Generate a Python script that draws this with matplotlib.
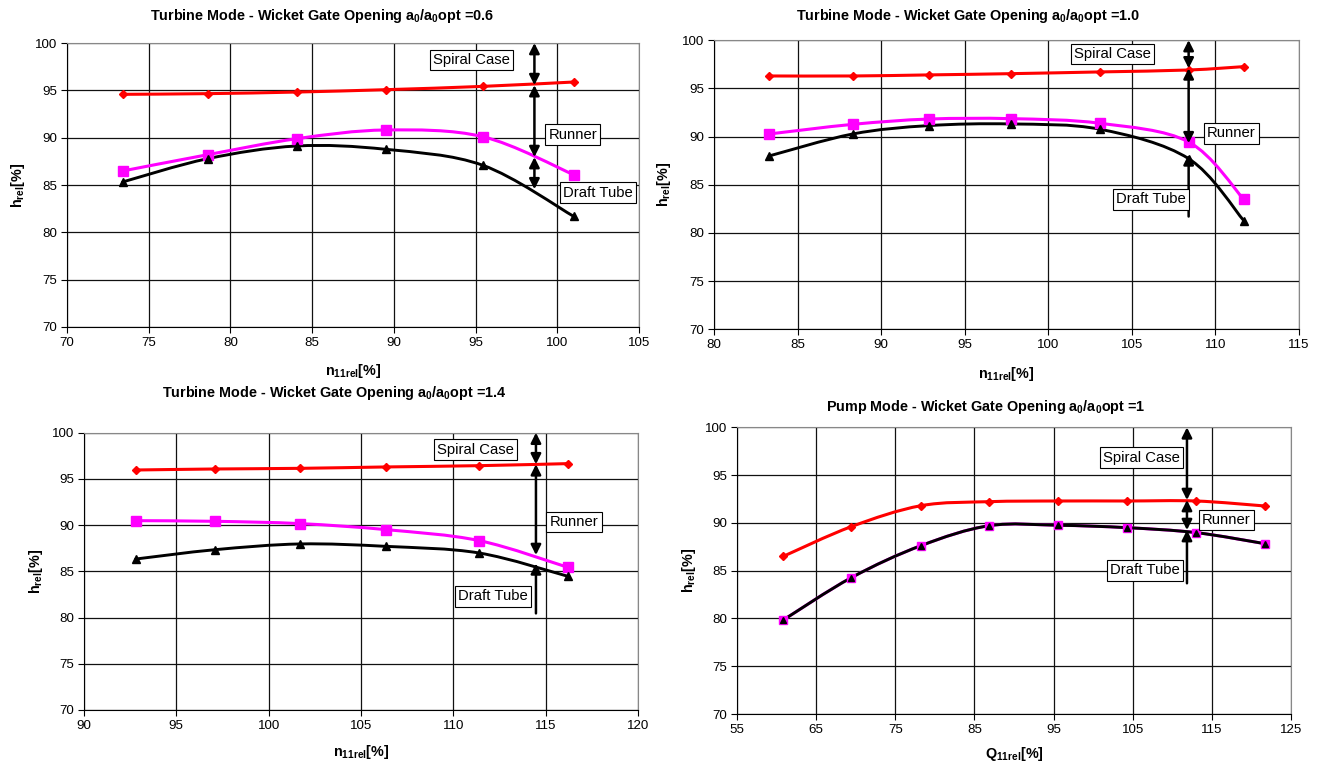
import numpy as np
import matplotlib
matplotlib.use('Agg')
import matplotlib.pyplot as plt
from matplotlib.path import Path
from matplotlib.patches import PathPatch

plt.rcParams['font.family'] = ['Liberation Sans', 'DejaVu Sans']
plt.rcParams['mathtext.default'] = 'regular'

# ===== данные =====
# Turbine mode, a0/a0opt = 0.6
n11_06 = [73.4, 78.6, 84.05, 89.5, 95.45, 101.0]
spiral_06 = [94.58, 94.65, 94.82, 95.07, 95.42, 95.88]
runner_06 = [86.48, 88.2, 89.89, 90.81, 90.1, 86.09]
draft_06 = [85.32, 87.78, 89.12, 88.77, 87.08, 81.69]

# Turbine mode, a0/a0opt = 1.0
n11_10 = [83.3, 88.3, 92.85, 97.8, 103.1, 108.4, 111.7]
spiral_10 = [96.28, 96.28, 96.39, 96.52, 96.70, 96.9, 97.25]
runner_10 = [90.26, 91.26, 91.81, 91.85, 91.37, 89.43, 83.48]
draft_10 = [87.98, 90.26, 91.13, 91.3, 90.75, 87.7, 81.27]

# Turbine mode, a0/a0opt = 1.4
n11_14 = [92.8, 97.1, 101.7, 106.35, 111.4, 116.2]
spiral_14 = [95.96, 96.07, 96.14, 96.29, 96.43, 96.65]
runner_14 = [90.48, 90.41, 90.16, 89.51, 88.32, 85.43]
draft_14 = [86.33, 87.34, 87.96, 87.70, 86.98, 84.46]

# Pump mode, a0/a0opt = 1
q11_p = [60.85, 69.45, 78.25, 86.9, 95.6, 104.25, 113.0, 121.65]
spiral_p = [86.5, 89.61, 91.8, 92.22, 92.29, 92.29, 92.29, 91.77]
runner_p = [79.84, 84.27, 87.62, 89.71, 89.75, 89.5, 88.98, 87.83]
draft_p = [79.84, 84.27, 87.62, 89.71, 89.75, 89.5, 88.98, 87.83]

y_ticks = [70, 75, 80, 85, 90, 95, 100]


def smooth_line(ax, x, y, color, lw):
    # сглаженная линия как в Excel (Catmull-Rom -> кубические Безье)
    pts = np.column_stack([x, y]).astype(float)
    n = len(pts)
    verts = [pts[0]]
    codes = [Path.MOVETO]
    for i in range(n - 1):
        p0 = pts[max(i - 1, 0)]
        p1 = pts[i]
        p2 = pts[i + 1]
        p3 = pts[min(i + 2, n - 1)]
        verts += [p1 + (p2 - p0) / 6, p2 - (p3 - p1) / 6, p2]
        codes += [Path.CURVE4] * 3
    ax.add_patch(PathPatch(Path(verts, codes), fill=False, edgecolor=color,
                           lw=lw, capstyle='round', joinstyle='round', zorder=3))


panels = [
    dict(rect=[0.0509, 0.572, 0.4343, 0.3717], x=n11_06, sc=spiral_06, ru=runner_06, dt=draft_06,
         xlim=(70, 105), xstep=5, xlabel=r'n$_{11rel}$[%]', xlab_y=-0.123,
         title=r'Turbine Mode - Wicket Gate Opening a$_0$/a$_0$opt =0.6', title_xy=(322, 16),
         arrow_x=98.6,
         arrows=[(100, 95.55, '<|-|>'), (95.55, 87.95, '<|-|>'), (87.95, 84.55, '<|-|>')],
         labels=[('Spiral Case', 94.76, 98.19), ('Runner', 100.94, 90.32), ('Draft Tube', 102.51, 84.19)],
         small=False),
    dict(rect=[0.5421, 0.569, 0.4442, 0.3785], x=n11_10, sc=spiral_10, ru=runner_10, dt=draft_10,
         xlim=(80, 115), xstep=5, xlabel=r'n$_{11rel}$[%]', xlab_y=-0.123,
         title=r'Turbine Mode - Wicket Gate Opening a$_0$/a$_0$opt =1.0', title_xy=(968, 16),
         arrow_x=108.4,
         arrows=[(100, 97.07, '<|-|>'), (97.07, 89.3, '<|-|>'), (81.7, 88.15, '-|>')],
         labels=[('Spiral Case', 103.85, 98.54), ('Runner', 110.96, 90.33), ('Draft Tube', 106.14, 83.49)],
         small=False),
    dict(rect=[0.0638, 0.0707, 0.4207, 0.3630], x=n11_14, sc=spiral_14, ru=runner_14, dt=draft_14,
         xlim=(90, 120), xstep=5, xlabel=r'n$_{11rel}$[%]', xlab_y=-0.12,
         title=r'Turbine Mode - Wicket Gate Opening a$_0$/a$_0$opt =1.4', title_xy=(334, 393),
         arrow_x=114.47,
         arrows=[(100, 96.58, '<|-|>'), (96.58, 86.76, '<|-|>'), (80.45, 85.86, '-|>')],
         labels=[('Spiral Case', 111.21, 98.16), ('Runner', 116.53, 90.34), ('Draft Tube', 112.13, 82.29)],
         small=False),
    dict(rect=[0.5596, 0.0654, 0.4207, 0.3753], x=q11_p, sc=spiral_p, ru=runner_p, dt=draft_p,
         xlim=(55, 125), xstep=10, xlabel=r'Q$_{11rel}$[%]', xlab_y=-0.108,
         title=r'Pump Mode - Wicket Gate Opening a$_0$/a$_0$opt =1', title_xy=(986, 407),
         arrow_x=111.85,
         arrows=[(100, 92.39, '<|-|>'), (92.39, 89.25, '<|-|>'), (83.68, 89.25, '-|>')],
         labels=[('Spiral Case', 106.11, 96.84), ('Runner', 116.84, 90.30), ('Draft Tube', 106.59, 85.02)],
         small=True),
]

W, H = 1317, 764
fig = plt.figure(figsize=(W / 100, H / 100), dpi=100)

for p in panels:
    ax = fig.add_axes(p['rect'])

    # кривые
    smooth_line(ax, p['x'], p['sc'], 'red', 2.2)
    ax.plot(p['x'], p['sc'], ls='none', marker='D', ms=4.3, color='red', zorder=4)

    smooth_line(ax, p['x'], p['ru'], 'magenta', 2.2)
    ms_sq = 5.8 if p['small'] else 6.8
    ax.plot(p['x'], p['ru'], ls='none', marker='s', ms=ms_sq, color='magenta', zorder=4)

    smooth_line(ax, p['x'], p['dt'], 'black', 2.1)
    ms_tr = 4.8 if p['small'] else 5.8
    ax.plot(p['x'], p['dt'], ls='none', marker='^', ms=ms_tr, color='black', zorder=4)

    # стрелки потерь
    for y0, y1, style in p['arrows']:
        ax.annotate('', xy=(p['arrow_x'], y1), xytext=(p['arrow_x'], y0),
                    arrowprops=dict(arrowstyle=style, color='black', lw=1.8,
                                    mutation_scale=15, shrinkA=0, shrinkB=0),
                    zorder=5, annotation_clip=False)

    for txt, tx, ty in p['labels']:
        ax.text(tx, ty, txt, ha='center', va='center', fontsize=10.7, zorder=6,
                bbox=dict(boxstyle='square,pad=0.22', fc='white', ec='black', lw=0.8))

    # оси и сетка
    x0, x1 = p['xlim']
    ax.set_xlim(x0, x1)
    ax.set_ylim(70, 100)
    ax.set_xticks(np.arange(x0, x1 + 0.1, p['xstep']))
    ax.set_yticks(y_ticks)
    ax.grid(True, color='#111111', lw=0.9)
    ax.set_axisbelow(True)
    ax.tick_params(direction='out', length=4, width=0.8, labelsize=9.6, pad=3,
                   top=False, right=False)
    for s in ['top', 'right']:
        ax.spines[s].set_color('#888888')
    for s in ['left', 'bottom']:
        ax.spines[s].set_color('black')

    ax.set_xlabel(p['xlabel'], fontsize=10.4, fontweight='bold')
    ax.xaxis.set_label_coords(0.5, p['xlab_y'])
    ax.set_ylabel(r'h$_{rel}$[%]', fontsize=10.4, fontweight='bold')
    ax.yaxis.set_label_coords(-0.07, 0.5)

    fig.text(p['title_xy'][0] / W, 1 - p['title_xy'][1] / H, p['title'],
             ha='center', va='center', fontsize=10.4, fontweight='bold')

fig.savefig('out.png', dpi=100)
